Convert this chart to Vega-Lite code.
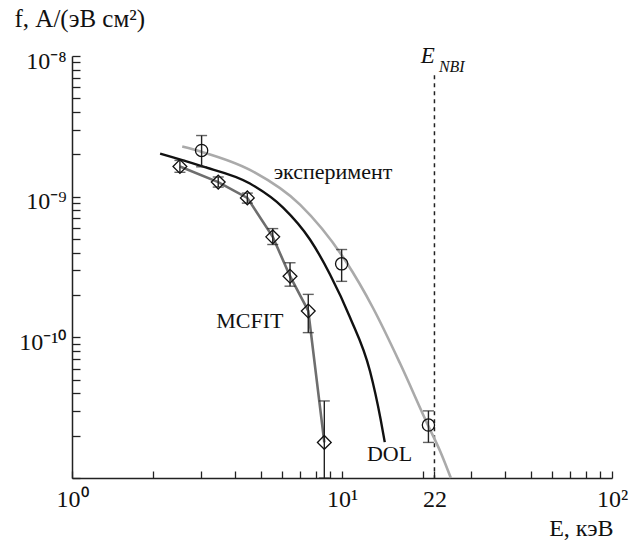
{
  "$schema": "https://vega.github.io/schema/vega-lite/v6.json",
  "width": 540,
  "height": 422,
  "autosize": {"type": "none"},
  "padding": {"left": 72, "top": 56, "right": 18, "bottom": 66},
  "background": "white",
  "config": {
    "view": {"stroke": null},
    "font": "Liberation Serif",
    "axis": {"grid": false, "domainColor": "#222", "domainWidth": 1.5, "tickColor": "#222", "tickWidth": 1.3, "labelColor": "#111", "titleColor": "#111", "labelFont": "Liberation Serif", "titleFont": "Liberation Serif", "labelFontSize": 24, "titleFontSize": 23, "titleFontWeight": "normal"}
  },
  "datasets": {
    "exp_curve": [
      {"E": 2.56, "f": 2.27e-9}, {"E": 3.03, "f": 2.08e-9}, {"E": 4.56, "f": 1.55e-9}, {"E": 6.99, "f": 8.77e-10},
      {"E": 10.4, "f": 3.4e-10}, {"E": 13.0, "f": 1.63e-10}, {"E": 16.4, "f": 6.54e-11}, {"E": 20.8, "f": 2.38e-11},
      {"E": 23.1, "f": 1.55e-11}, {"E": 25.3, "f": 1.0e-11}
    ],
    "dol_curve": [
      {"E": 2.12, "f": 2.02e-9}, {"E": 2.98, "f": 1.66e-9}, {"E": 4.56, "f": 1.24e-9}, {"E": 6.05, "f": 8.36e-10},
      {"E": 7.61, "f": 4.96e-10}, {"E": 9.03, "f": 2.8e-10}, {"E": 10.7, "f": 1.39e-10}, {"E": 12.7, "f": 5.74e-11},
      {"E": 13.9, "f": 2.62e-11}, {"E": 14.4, "f": 1.8e-11}
    ],
    "exp_points": [
      {"E": 3.02, "f": 2.13e-9, "lo": 1.63e-9, "hi": 2.72e-9},
      {"E": 9.97, "f": 3.33e-10, "lo": 2.5e-10, "hi": 4.21e-10},
      {"E": 20.9, "f": 2.38e-11, "lo": 1.79e-11, "hi": 3.0e-11}
    ],
    "mcfit": [
      {"E": 2.51, "f": 1.64e-9, "lo": 1.49e-9, "hi": 1.81e-9},
      {"E": 3.48, "f": 1.27e-9, "lo": 1.17e-9, "hi": 1.38e-9},
      {"E": 4.46, "f": 9.8e-10, "lo": 9.0e-10, "hi": 1.06e-9},
      {"E": 5.54, "f": 5.18e-10, "lo": 4.57e-10, "hi": 5.93e-10},
      {"E": 6.42, "f": 2.72e-10, "lo": 2.31e-10, "hi": 3.39e-10},
      {"E": 7.5, "f": 1.54e-10, "lo": 1.08e-10, "hi": 2.02e-10},
      {"E": 8.6, "f": 1.79e-11, "lo": 1.0e-11, "hi": 3.53e-11}
    ],
    "nbi": [{"E": 22, "f": 7.3e-9, "f2": 1e-11}]
  },
  "layer": [
    {
      "data": {"name": "nbi"},
      "mark": {"type": "rule", "color": "#222", "strokeWidth": 1.5, "strokeDash": [4, 4]},
      "encoding": {
        "x": {"field": "E", "type": "quantitative",
          "scale": {"type": "log", "domain": [1, 100], "nice": false},
          "axis": {
            "values": [1,2,3,4,5,6,7,8,9,10,20,22,30,40,50,60,70,80,90,100],
            "labelExpr": "abs(datum.value-1)<0.001 ? '10⁰' : abs(datum.value-10)<0.001 ? '10¹' : abs(datum.value-22)<0.001 ? '22' : abs(datum.value-100)<0.001 ? '10²' : ''",
            "labelOverlap": false, "labelFlush": false,
            "labelFont": "Liberation Serif", "titleFont": "Liberation Serif",
            "ticks": true,
            "tickSize": -7,
            "labelPadding": 16, "labelBaseline": "top",
            "title": "E, кэВ", "titleAlign": "right", "titleAnchor": "end", "titleX": 541, "titleY": 50, "titleBaseline": "middle", "titleFontSize": 24
          }
        },
        "y": {"field": "f", "type": "quantitative",
          "scale": {"type": "log", "domain": [1e-11, 1e-8], "nice": false},
          "axis": {
            "values": [1e-11,2e-11,3e-11,4e-11,5e-11,6e-11,7e-11,8e-11,9e-11,1e-10,2e-10,3e-10,4e-10,5e-10,6e-10,7e-10,8e-10,9e-10,1e-9,2e-9,3e-9,4e-9,5e-9,6e-9,7e-9,8e-9,9e-9,1e-8],
            "labelExpr": "abs(log(datum.value)/LN10+8)<0.001 ? '10⁻⁸' : abs(log(datum.value)/LN10+9)<0.001 ? '10⁻⁹' : abs(log(datum.value)/LN10+10)<0.001 ? '10⁻¹⁰' : ''",
            "labelOverlap": false, "labelFlush": false,
            "labelFont": "Liberation Serif", "titleFont": "Liberation Serif",
            "ticks": true,
            "tickSize": -8,
            "labelPadding": 14, "labelOffset": 5,
            "title": "f, А/(эВ см²)", "titleAngle": 0, "titleAlign": "left", "titleAnchor": "start", "titleX": -58, "titleY": -38, "titleBaseline": "middle", "titleFontSize": 25
          }
        },
        "y2": {"field": "f2"}
      }
    },
    {
      "data": {"name": "exp_curve"},
      "mark": {"type": "line", "color": "#aaaaaa", "strokeWidth": 2.6, "interpolate": "monotone"},
      "encoding": {"x": {"field": "E", "type": "quantitative"}, "y": {"field": "f", "type": "quantitative"}}
    },
    {
      "data": {"name": "dol_curve"},
      "mark": {"type": "line", "color": "#111111", "strokeWidth": 2.4, "interpolate": "monotone"},
      "encoding": {"x": {"field": "E", "type": "quantitative"}, "y": {"field": "f", "type": "quantitative"}}
    },
    {
      "data": {"name": "mcfit"},
      "mark": {"type": "line", "color": "#6e6e6e", "strokeWidth": 2.6},
      "encoding": {"x": {"field": "E", "type": "quantitative"}, "y": {"field": "f", "type": "quantitative"}}
    },
    {
      "data": {"name": "mcfit"},
      "mark": {"type": "rule", "color": "#222", "strokeWidth": 1.4},
      "encoding": {"x": {"field": "E", "type": "quantitative"}, "y": {"field": "lo", "type": "quantitative"}, "y2": {"field": "hi"}}
    },
    {
      "data": {"name": "mcfit"},
      "mark": {"type": "tick", "orient": "horizontal", "color": "#222", "size": 11, "thickness": 1.4},
      "encoding": {"x": {"field": "E", "type": "quantitative"}, "y": {"field": "hi", "type": "quantitative"}}
    },
    {
      "data": {"name": "mcfit"},
      "mark": {"type": "tick", "orient": "horizontal", "color": "#222", "size": 11, "thickness": 1.4},
      "encoding": {"x": {"field": "E", "type": "quantitative"}, "y": {"field": "lo", "type": "quantitative"}}
    },
    {
      "data": {"name": "mcfit"},
      "mark": {"type": "point", "shape": "diamond", "size": 190, "filled": false, "stroke": "#111", "strokeWidth": 1.3, "opacity": 1},
      "encoding": {"x": {"field": "E", "type": "quantitative"}, "y": {"field": "f", "type": "quantitative"}}
    },
    {
      "data": {"name": "exp_points"},
      "mark": {"type": "rule", "color": "#222", "strokeWidth": 1.4},
      "encoding": {"x": {"field": "E", "type": "quantitative"}, "y": {"field": "lo", "type": "quantitative"}, "y2": {"field": "hi"}}
    },
    {
      "data": {"name": "exp_points"},
      "mark": {"type": "tick", "orient": "horizontal", "color": "#222", "size": 11, "thickness": 1.4},
      "encoding": {"x": {"field": "E", "type": "quantitative"}, "y": {"field": "hi", "type": "quantitative"}}
    },
    {
      "data": {"name": "exp_points"},
      "mark": {"type": "tick", "orient": "horizontal", "color": "#222", "size": 11, "thickness": 1.4},
      "encoding": {"x": {"field": "E", "type": "quantitative"}, "y": {"field": "lo", "type": "quantitative"}}
    },
    {
      "data": {"name": "exp_points"},
      "mark": {"type": "point", "shape": "circle", "size": 150, "filled": false, "stroke": "#111", "strokeWidth": 1.3, "opacity": 1},
      "encoding": {"x": {"field": "E", "type": "quantitative"}, "y": {"field": "f", "type": "quantitative"}}
    },
    {
      "data": {"values": [{"E": 9.26, "f": 1.5e-9, "text": "эксперимент"}, {"E": 4.56, "f": 1.3e-10, "text": "MCFIT"}, {"E": 15.0, "f": 1.48e-11, "text": "DOL"}]},
      "mark": {"type": "text", "font": "Liberation Serif", "fontSize": 22, "color": "#111", "align": "center", "baseline": "middle"},
      "encoding": {"x": {"field": "E", "type": "quantitative"}, "y": {"field": "f", "type": "quantitative"}, "text": {"field": "text"}}
    },
    {
      "data": {"values": [{"E": 20.8, "f": 1e-8, "t": "E"}]},
      "mark": {"type": "text", "font": "Liberation Serif", "fontStyle": "italic", "fontSize": 23, "color": "#111", "align": "center", "baseline": "middle", "clip": false},
      "encoding": {"x": {"field": "E", "type": "quantitative"}, "y": {"field": "f", "type": "quantitative"}, "text": {"field": "t"}}
    },
    {
      "data": {"values": [{"E": 25.5, "f": 8.36e-9, "t": "NBI"}]},
      "mark": {"type": "text", "font": "Liberation Serif", "fontStyle": "italic", "fontSize": 16, "color": "#111", "align": "center", "baseline": "middle", "clip": false},
      "encoding": {"x": {"field": "E", "type": "quantitative"}, "y": {"field": "f", "type": "quantitative"}, "text": {"field": "t"}}
    }
  ]
}
